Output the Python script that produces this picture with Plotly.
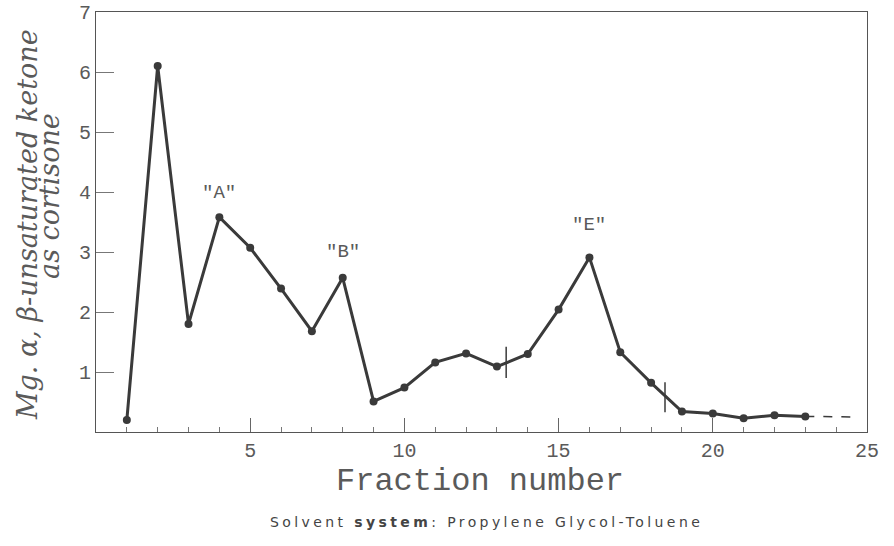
import plotly.graph_objects as go

# ---- data ----
fraction = list(range(1, 24))
ketone_mg = [0.2, 6.1, 1.8, 3.58, 3.07, 2.39, 1.68, 2.57, 0.51, 0.74, 1.16,
             1.31, 1.09, 1.3, 2.04, 2.91, 1.33, 0.82, 0.34, 0.31, 0.23, 0.28, 0.26]
tail_x = [23, 24.6]
tail_y = [0.26, 0.25]
cut_x = [13.3, 18.45]
cut_lo = [0.9, 0.33]
cut_hi = [1.42, 0.83]
peak_labels = ['"A"', '"B"', '"E"']
peak_x = [4, 8, 16]
peak_y = [3.98, 3.0, 3.45]
x_ticks = [5, 10, 15, 20, 25]
y_ticks = [1, 2, 3, 4, 5, 6, 7]

INK = "#3a3a3a"
TXT = "#5a5a5a"
MONO = "Liberation Mono"

fig = go.Figure()

fig.add_trace(go.Scatter(
    x=fraction, y=ketone_mg, mode="lines+markers",
    line=dict(color=INK, width=3), marker=dict(color=INK, size=8),
    showlegend=False, hoverinfo="skip"))

fig.add_trace(go.Scatter(
    x=tail_x, y=tail_y, mode="lines",
    line=dict(color=INK, width=1.5, dash="dash"),
    showlegend=False, hoverinfo="skip"))

cx, cy = [], []
for x, lo, hi in zip(cut_x, cut_lo, cut_hi):
    cx += [x, x, None]
    cy += [lo, hi, None]
fig.add_trace(go.Scatter(
    x=cx, y=cy, mode="lines", line=dict(color=INK, width=1.5),
    showlegend=False, hoverinfo="skip"))

for t, x, y in zip(peak_labels, peak_x, peak_y):
    fig.add_annotation(x=x, y=y, text=t, showarrow=False,
                       xanchor="center", yanchor="middle",
                       font=dict(family=MONO, size=19, color=TXT))

# y-axis title (two italic lines)
fig.add_annotation(xref="paper", yref="paper", x=-0.0895, y=0.495,
                   xanchor="center", yanchor="middle",
                   text="Mg. α, β-unsaturated ketone", textangle=-90,
                   showarrow=False,
                   font=dict(family="DejaVu Serif", size=27, color=TXT, style="italic"))
fig.add_annotation(xref="paper", yref="paper", x=-0.0597, y=0.562,
                   xanchor="center", yanchor="middle",
                   text="as cortisone", textangle=-90, showarrow=False,
                   font=dict(family="DejaVu Serif", size=27, color=TXT, style="italic"))

# x-axis title
fig.add_annotation(xref="paper", yref="paper", x=0.498, y=-0.117,
                   xanchor="center", yanchor="middle",
                   text="Fraction number", showarrow=False,
                   font=dict(family=MONO, size=32, color=TXT))

# caption
fig.add_annotation(xref="paper", yref="paper", x=0.506, y=-0.214,
                   xanchor="center", yanchor="middle",
                   text='<span style="letter-spacing:3.4px">Solvent <b>system</b>: Propylene Glycol-Toluene</span>',
                   showarrow=False,
                   font=dict(family="DejaVu Sans", size=14, color="#444444"))

fig.update_layout(
    width=894, height=546,
    margin=dict(l=96, r=27, t=12, b=114),
    paper_bgcolor="white", plot_bgcolor="white",
    xaxis=dict(range=[0, 25], tickvals=x_ticks, ticks="inside", ticklen=14,
               tickcolor="#666", tickwidth=1, showgrid=False, zeroline=False,
               showline=True, linecolor="#555", linewidth=1.2, mirror=True,
               automargin=False, ticklabeloverflow="allow",
               tickfont=dict(family=MONO, size=20, color=TXT),
               minor=dict(dtick=1, tick0=0, ticks="inside", ticklen=5,
                          tickcolor="#777", showgrid=False)),
    yaxis=dict(range=[0, 7], tickvals=y_ticks, ticks="inside", ticklen=18,
               tickcolor="#777", tickwidth=1, showgrid=False, zeroline=False,
               showline=True, linecolor="#555", linewidth=1.2, mirror=True,
               automargin=False, ticklabeloverflow="allow",
               tickfont=dict(family=MONO, size=20, color=TXT)),
)

fig.write_html("out.html", config={"displayModeBar": False},
               post_script="document.body.style.margin='0px';")
